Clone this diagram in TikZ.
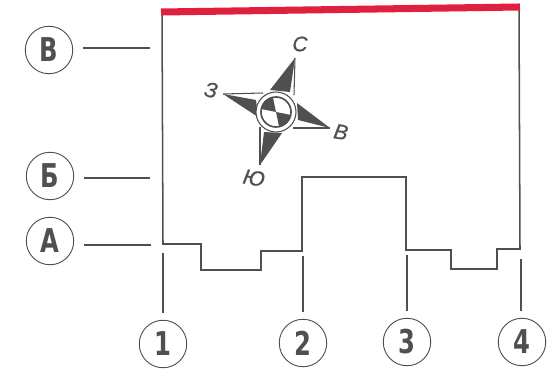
\documentclass[tikz,border=0pt]{standalone}
\usepackage{fontspec}
\setmainfont{Liberation Sans}
\newfontfamily\markerfont[FakeStretch=0.74]{DejaVu Sans}
\newfontfamily\compassfont[FakeBold=0.8,ItalicFont={Liberation Sans Italic}]{Liberation Sans}
\definecolor{inkgray}{HTML}{505050}
\definecolor{roofred}{HTML}{E02040}
\tikzset{
  marker/.style={draw=inkgray,line width=0.8pt,circle,inner sep=0pt,minimum size=40.5pt,
    text=inkgray,font=\markerfont\bfseries\fontsize{28}{28}\selectfont},
  leader/.style={draw=inkgray,line width=0.9pt},
  wall/.style={draw=inkgray,line width=1.3pt,line join=miter},
  compassmark/.style={text=inkgray,inner sep=0pt,font=\itshape\fontsize{18}{18}\selectfont}
}
\begin{document}
\begin{tikzpicture}[x=0.03cm,y=-0.03cm]
      \useasboundingbox (0,0) rectangle (556,371);
      % outline of the building
      \draw[wall] (162,12) -- (163,244) -- (201,244) -- (201,270) -- (261,270) -- (261,251)
        -- (302,251) -- (302,177) -- (406,177) -- (406,250) -- (451,250) -- (451,269)
        -- (497,269) -- (497,249) -- (520,249) -- (519,8);
      \draw[draw=roofred,line width=6pt] (161,12) -- (520,7);
      % markers
      \draw
        (49,50) node[marker] (rowV){В}
        (50,176) node[marker] (rowB){Б}
        (50,241) node[marker] (rowA){А}
        (163,344) node[marker] (col1){1}
        (303,343) node[marker] (col2){2}
        (407,342) node[marker] (col3){3}
        (522,342) node[marker] (col4){4};
      \coordinate (endV) at (150,48);
      \coordinate (endB) at (150,178);
      \coordinate (endA) at (151,245);
      \coordinate (end1) at (163,253);
      \coordinate (end2) at (303,256);
      \coordinate (end3) at (407,255);
      \coordinate (end4) at (521,259);
      \begin{scope}[leader]
        \draw[shorten <=8pt] (rowV.east |- endV) to (endV);
        \draw[shorten <=8pt] (rowB.east |- endB) to (endB);
        \draw[shorten <=8pt] (rowA.east |- endA) to (endA);
        \draw[shorten <=6pt] (col1.north -| end1) to (end1);
        \draw[shorten <=6pt] (col2.north -| end2) to (end2);
        \draw[shorten <=6pt] (col3.north -| end3) to (end3);
        \draw[shorten <=6pt] (col4.north -| end4) to (end4);
      \end{scope}
      % compass
      \coordinate (hub) at (276,112);
      \coordinate (tipN) at (295,58);
      \coordinate (tipE) at (330,128);
      \coordinate (tipS) at (260,165);
      \coordinate (tipW) at (223,94);
      \fill[inkgray] (tipN) -- (270,90) -- (290,92) -- cycle;
      \fill[inkgray] (tipE) -- (297,103) -- (298,120) -- cycle;
      \fill[inkgray] (tipS) -- (282,133) -- (264,132) -- cycle;
      \fill[inkgray] (tipW) -- (258,117) -- (256,100) -- cycle;
      \draw[leader] (tipN) -- (294,95);
      \draw[leader] (tipE) -- (293,128);
      \draw[leader] (tipS) -- (260,127);
      \draw[leader] (tipW) -- (263,93);
      \draw[leader,fill=white] (hub) circle (20);
      \draw[draw=inkgray,line width=1.4pt] (hub) circle (15);
      \fill[inkgray] (hub) -- ++(-15,-3) arc[start angle=191,end angle=259,radius=15] -- cycle;
      \fill[inkgray] (hub) -- ++(15,3) arc[start angle=11,end angle=79,radius=15] -- cycle;
      \node[compassmark] (labelN) at (300,44) {\compassfont С};
      \node[compassmark,rotate=-10] (labelE) at (341,132) {\compassfont В};
      \node[compassmark,rotate=-10] (labelS) at (254,178) {\compassfont Ю};
      \node[compassmark,rotate=-10] (labelW) at (211,90) {\compassfont З};
    \end{tikzpicture}
\end{document}
